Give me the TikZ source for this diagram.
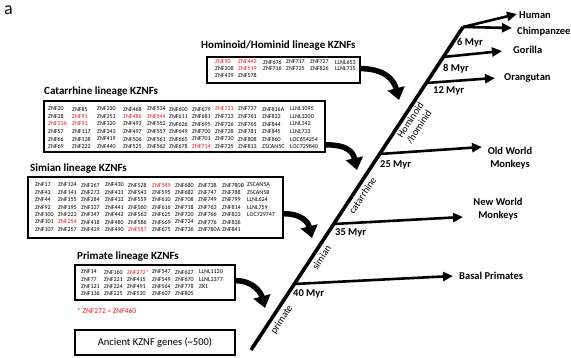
\documentclass[tikz,border=0pt]{standalone}
\usepackage{fontspec}
\setmainfont{Carlito}
\usetikzlibrary{arrows.meta,calc}
\definecolor{zred}{RGB}{232,22,30}
\newcommand\genegrid[5]{%
  \foreach \gr [count=\ri] in {#5} {%
    \foreach \g [count=\ci] in \gr {%
      \pgfmathsetmacro\gx{{#2}[\ci-1]}%
      \node[gene] (#1-\ri-\ci) at (\gx,{#3+#4*(\ri-1)}) {\g};
    }%
  }%
}
\newcommand\rd[1]{\textcolor{zred}{#1}}
\begin{document}
\begin{tikzpicture}[x=1pt,y=-1pt,
  gene/.style={anchor=west,inner sep=0pt,font=\fontsize{6}{7}\selectfont},
  ttl/.style={anchor=west,inner sep=0pt,font=\bfseries\fontsize{11}{13}\selectfont},
  genebox/.style={draw,line width=1.3pt,inner sep=0pt},
  tlab/.style={inner sep=0pt,font=\bfseries\fontsize{10.5}{13}\selectfont},
  myr/.style={anchor=west,inner sep=0pt,font=\bfseries\fontsize{10.5}{12}\selectfont},
  rlab/.style={inner sep=0pt,rotate=56.7,font=\fontsize{10}{11}\selectfont},
  trunk/.style={line width=3.6pt},
  branch/.style={line width=2.6pt,-{Triangle[length=10pt,width=9pt]}},
  bigarrow/.style={line width=5.5pt,-{Triangle[length=12pt,width=17pt]}}]
\fill[white] (0,0) rectangle (571,358);
\useasboundingbox (0,0) rectangle (571,358);

\node[inner sep=0pt,font=\fontsize{18}{18}\selectfont] (lbl) at (8.5,10) {a};

% ---------- Hominoid ----------
\node[ttl] (homt) at (201,46) {Hominoid/Hominid lineage KZNFs};
\node[genebox,minimum width=153pt,minimum height=26pt] (hombox) at (283.5,70) {};
\genegrid{hom}{215,238,263,286,310,335}{62}{6.6}{%
 {\rd{ZNF90},\rd{ZNF443},ZNF676,ZNF717,ZNF727,LLNL653},
 {ZNF208,\rd{ZNF519},ZNF716,ZNF725,ZNF826,LLNL735},
 {ZNF439,ZNF578}}

% ---------- Catarrhine ----------
\node[ttl] (catt) at (44,92) {Catarrhine lineage KZNFs};
\node[genebox,minimum width=281pt,minimum height=51pt] (catbox) at (184.5,126.5) {};
\genegrid{cat}{48,72,97,123,147,169,192,215,238,262,290}{109}{7.5}{%
 {ZNF20,ZNF85,ZNF230,ZNF468,ZNF534,ZNF600,ZNF679,\rd{ZNF721},ZNF737,ZNF816A,LLNL1095},
 {ZNF28,\rd{ZNF91},ZNF253,\rd{ZNF486},\rd{ZNF544},ZNF611,ZNF681,ZNF723,ZNF761,ZNF833,LLNL3200},
 {\rd{ZNF33A},\rd{ZNF93},ZNF320,ZNF493,ZNF552,ZNF626,ZNF695,ZNF726,ZNF765,ZNF844,LLNL342},
 {ZNF57,ZNF117,ZNF343,ZNF497,ZNF557,ZNF649,ZNF700,ZNF728,ZNF781,ZNF845,LLNL733},
 {ZNF66,ZNF138,ZNF419,ZNF506,ZNF561,ZNF665,ZNF701,ZNF730,ZNF808,ZNF860,LOC654254},
 {ZNF69,ZNF222,ZNF440,ZNF525,ZNF562,ZNF678,\rd{ZNF714},ZNF735,ZNF813,ZSCAN5C,LOC729840}}

% ---------- Simian ----------
\node[ttl] (simt) at (30,169) {Simian lineage KZNFs};
\node[genebox,minimum width=255pt,minimum height=61pt] (simbox) at (155.5,207.5) {};
\genegrid{sim}{35,58,81,105,128,152,175,198,222,247}{185}{7.4}{%
 {ZNF17,ZNF124,ZNF267,ZNF430,ZNF528,\rd{ZNF589},ZNF680,ZNF738,ZNF780B,ZSCAN5A},
 {ZNF43,ZNF141,ZNF273,ZNF431,ZNF543,ZNF595,ZNF682,ZNF747,ZNF788,ZSCAN5B},
 {ZNF44,ZNF155,ZNF284,ZNF433,ZNF559,ZNF610,ZNF708,ZNF749,ZNF799,LLNL624},
 {ZNF92,ZNF195,ZNF337,ZNF441,ZNF560,ZNF616,ZNF718,ZNF763,ZNF814,LLNL759},
 {ZNF100,ZNF223,ZNF347,ZNF442,ZNF563,ZNF625,ZNF720,ZNF766,ZNF823,LOC729747},
 {ZNF101,\rd{ZNF254},ZNF418,ZNF480,ZNF586,ZNF669,ZNF724,ZNF776,ZNF836},
 {ZNF107,ZNF257,ZNF429,ZNF490,\rd{ZNF587},ZNF675,ZNF736,ZNF780A,ZNF841}}

% ---------- Primate ----------
\node[ttl] (prit) at (77,257) {Primate lineage KZNFs};
\node[genebox,minimum width=160pt,minimum height=35pt] (pribox) at (155,282.5) {};
\genegrid{pri}{81,104,127,152,175,199}{272}{7.3}{%
 {ZNF14,ZNF160,\rd{ZNF272*},ZNF547,ZNF627,LLNL1120},
 {ZNF77,ZNF221,ZNF415,ZNF549,ZNF670,LLNL3377},
 {ZNF121,ZNF224,ZNF491,ZNF564,ZNF778,ZK1},
 {ZNF136,ZNF225,ZNF530,ZNF607,ZNF805}}
\node[anchor=west,inner sep=0pt,text=zred,font=\fontsize{7.5}{9}\selectfont] (foot) at (77,311) {* ZNF272 = ZNF460};

% ---------- Ancient ----------
\node[genebox,minimum width=160pt,minimum height=25pt,font=\fontsize{10.5}{12}\selectfont] (anc) at (155,342.5) {Ancient KZNF genes (\textasciitilde500)};

% ---------- Tree ----------
\coordinate (troot) at (251,350);
\coordinate (tfork) at (463,27);
\coordinate (bBas) at (294.3,284);
\coordinate (bNWM) at (333.7,224);
\coordinate (bOWM) at (379.6,154);
\coordinate (bOra) at (426.2,83);
\coordinate (bGor) at (443.3,57);
\coordinate (tipH) at (517,14);
\coordinate (tipC) at (512,28);
\coordinate (tipG) at (502,51);
\coordinate (tipO) at (495,78);
\coordinate (tipOWM) at (482,147);
\coordinate (tipNWM) at (463,217);
\coordinate (tipBas) at (453,276);

\draw[trunk] (troot) -- (tfork);
\draw[branch] (tfork) -- (tipH);
\draw[branch] (tfork) -- (tipC);
\draw[branch] (bGor) -- (tipG);
\draw[branch] (bOra) -- (tipO);
\draw[branch] (bOWM) -- (tipOWM);
\draw[branch] (bNWM) -- (tipNWM);
\draw[branch] (bBas) -- (tipBas);

\node[tlab,anchor=west] (human) at (519,15) {Human};
\node[tlab,anchor=west] (chimp) at (517,32) {Chimpanzee};
\node[tlab,anchor=west] (gor) at (513,50) {Gorilla};
\node[tlab,anchor=west] (ora) at (504,78) {Orangutan};
\node[tlab,align=center] (owm) at (510,158.5) {Old World\\Monkeys};
\node[tlab,align=center] (nwm) at (498,209) {New World\\Monkeys};
\node[tlab,anchor=west] (bas) at (459,276) {Basal Primates};

\node[myr] (m6) at (457,43) {6 Myr};
\node[myr] (m8) at (443,69) {8 Myr};
\node[myr] (m12) at (433,91) {12 Myr};
\node[myr] (m25) at (380,165) {25 Myr};
\node[myr] (m35) at (335,233) {35 Myr};
\node[myr] (m40) at (293,294) {40 Myr};

\node[rlab] (lprim) at (282,320) {primate};
\node[rlab] (lsim) at (321.5,257.5) {simian};
\node[rlab] (lcat) at (362.5,195.5) {catarrhine};
\node[rlab,align=left] (lhom) at (415,123) {Hominoid\\/hominid};

% ---------- curved arrows ----------
\coordinate (aH) at (399,100);
\coordinate (aC) at (357,170);
\coordinate (aS) at (312,238);
\coordinate (aP) at (265,308);
\draw[bigarrow] ($(hombox.north east)!0.45!(hombox.south east)$) .. controls +(24,0) and +(-5,-20) .. (aH);
\draw[bigarrow] ($(catbox.north east)!0.85!(catbox.south east)$) .. controls +(22,0) and +(-4,-18) .. (aC);
\draw[bigarrow] ($(simbox.north east)!0.6!(simbox.south east)$) .. controls +(18,0) and +(-4,-16) .. (aS);
\draw[bigarrow] ($(pribox.north east)!0.45!(pribox.south east)$) .. controls +(18,0) and +(-4,-15) .. (aP);
\end{tikzpicture}
\end{document}
